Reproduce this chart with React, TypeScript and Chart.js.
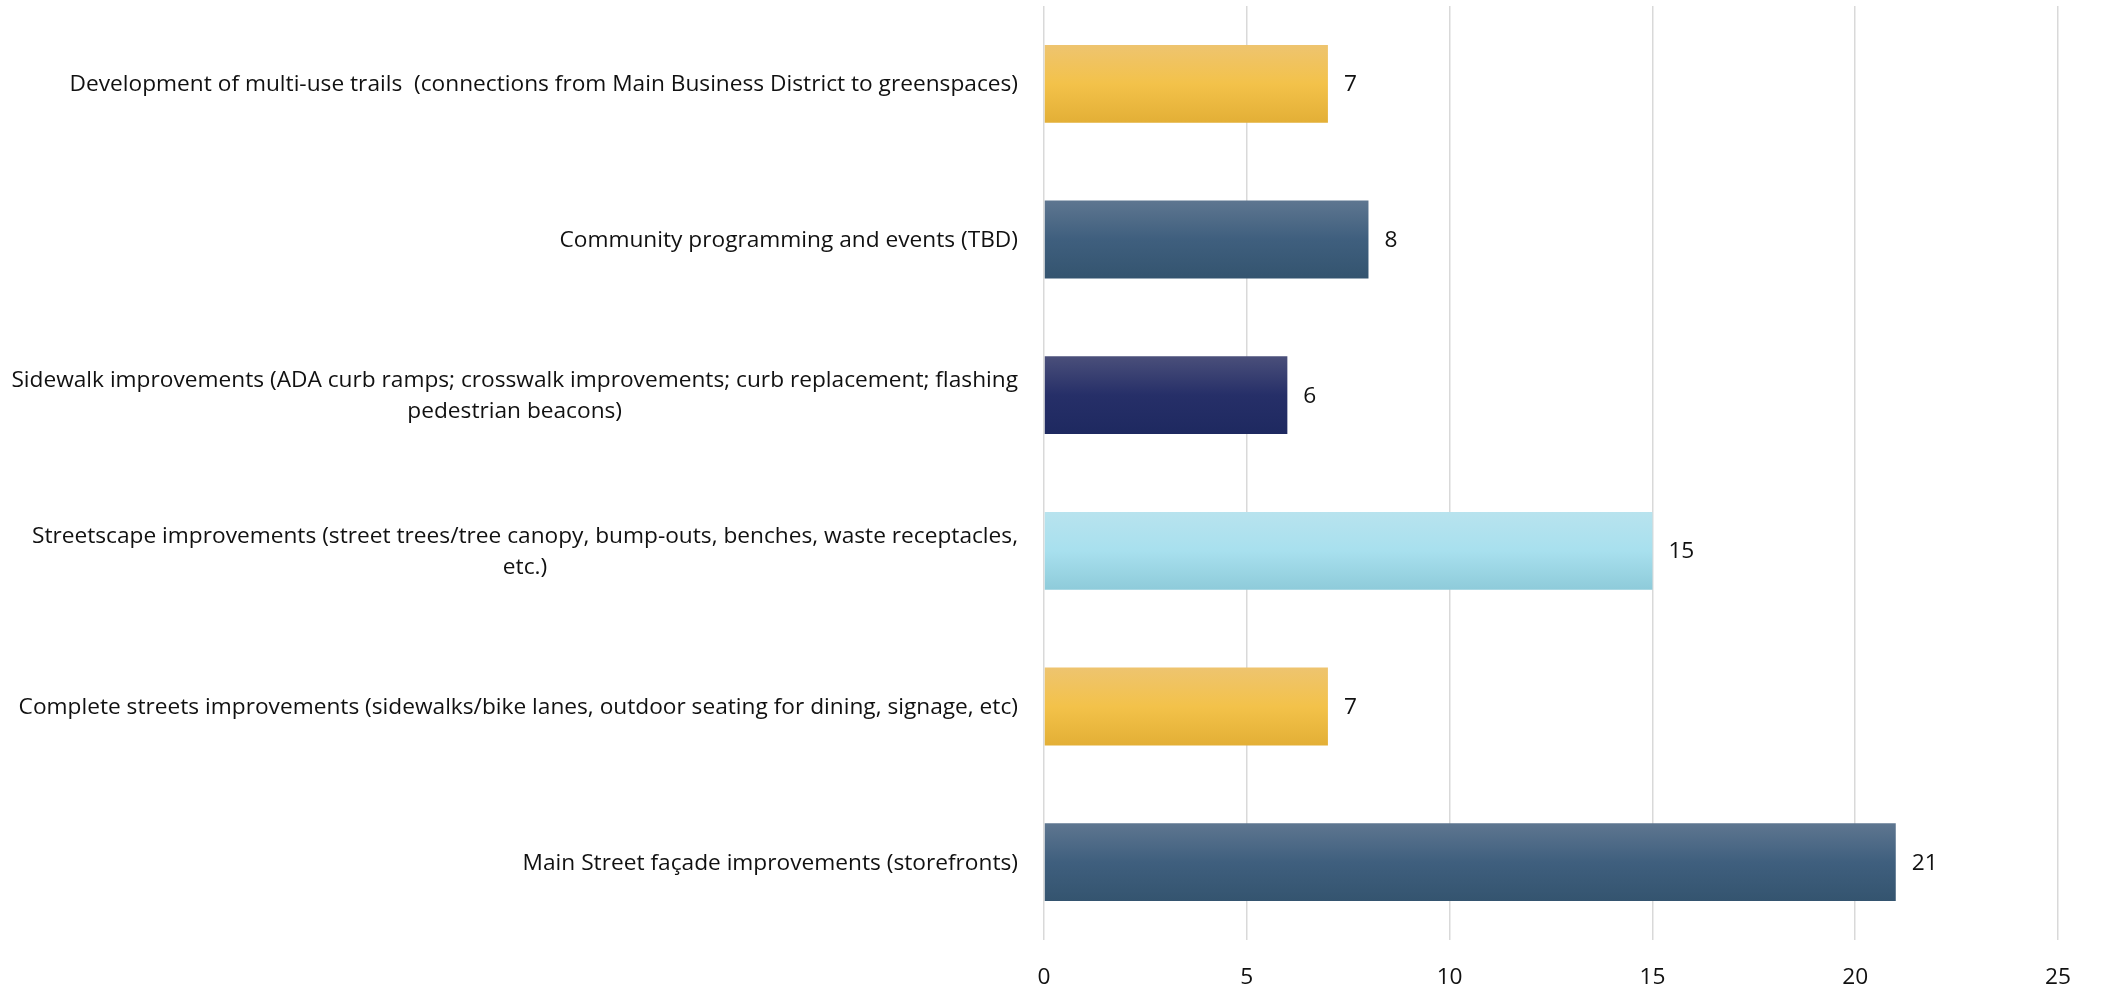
import React, { useEffect, useRef } from "react";
import { Chart, registerables } from "chart.js";

Chart.register(...registerables);

const categories: string[][] = [
  ["Development of multi-use trails  (connections from Main Business District to greenspaces)"],
  ["Community programming and events (TBD)"],
  ["Sidewalk improvements (ADA curb ramps; crosswalk improvements; curb replacement; flashing", "pedestrian beacons)"],
  ["Streetscape improvements (street trees/tree canopy, bump-outs, benches, waste receptacles,", "etc.)"],
  ["Complete streets improvements (sidewalks/bike lanes, outdoor seating for dining, signage, etc)"],
  ["Main Street façade improvements (storefronts)"],
];
const values: number[] = [7, 8, 6, 15, 7, 21];
const xTicks: number[] = [0, 5, 10, 15, 20, 25];

const gold = ["#EEC46F", "#F3C24A", "#E3AF36"];
const slate = ["#5E7690", "#3F5F7E", "#34546F"];
const navy = ["#4A4F7A", "#262F68", "#1E2960"];
const lightBlue = ["#B8E3EE", "#A8E0EE", "#8ECBDA"];
const barGradients: string[][] = [gold, slate, navy, lightBlue, gold, slate];

const FONT = "'Open Sans', 'Noto Sans', sans-serif";
const FONT_SIZE = 22.7;
const TEXT_COLOR = "#111111";

const valueLabelPlugin = {
  id: "valueLabels",
  afterDatasetsDraw(chart: any) {
    const ctx = chart.ctx;
    const meta = chart.getDatasetMeta(0);
    ctx.save();
    ctx.font = `${FONT_SIZE}px ${FONT}`;
    ctx.fillStyle = TEXT_COLOR;
    ctx.textAlign = "left";
    ctx.textBaseline = "middle";
    meta.data.forEach((bar: any, i: number) => {
      ctx.fillText(String(values[i]), bar.x + 16, bar.y + 1);
    });
    ctx.restore();
  },
};

const categoryLabelPlugin = {
  id: "categoryLabels",
  afterDraw(chart: any) {
    const ctx = chart.ctx;
    const yScale = chart.scales.y;
    const right = chart.chartArea.left - 26;
    const lineH = 31;
    ctx.save();
    ctx.font = `${FONT_SIZE}px ${FONT}`;
    ctx.fillStyle = TEXT_COLOR;
    ctx.textAlign = "center";
    ctx.textBaseline = "middle";
    categories.forEach((lines, i) => {
      const yc = yScale.getPixelForValue(i) + 1;
      const maxW = Math.max(...lines.map((l) => ctx.measureText(l).width));
      const cx = right - maxW / 2;
      const y0 = yc - ((lines.length - 1) * lineH) / 2;
      lines.forEach((l, j) => ctx.fillText(l, cx, y0 + j * lineH));
    });
    ctx.restore();
  },
};

export default function App() {
  const ref = useRef<HTMLCanvasElement | null>(null);

  useEffect(() => {
    document.body.style.margin = "0";
    const canvas = ref.current;
    if (!canvas) return;
    const chart = new Chart(canvas, {
      type: "bar",
      data: {
        labels: categories.map((c) => c.join(" ")),
        datasets: [
          {
            data: values,
            barPercentage: 0.5,
            categoryPercentage: 1.0,
            borderWidth: 0,
            backgroundColor: (context: any) => {
              const stops = barGradients[context.dataIndex] || slate;
              const chartObj = context.chart;
              const area = chartObj.chartArea;
              const ys = chartObj.scales?.y;
              if (!area || !ys) return stops[1];
              const yc = ys.getPixelForValue(context.dataIndex);
              const h = (area.height / categories.length) * 0.5;
              const g = chartObj.ctx.createLinearGradient(0, yc - h / 2, 0, yc + h / 2);
              g.addColorStop(0, stops[0]);
              g.addColorStop(0.5, stops[1]);
              g.addColorStop(1, stops[2]);
              return g;
            },
          },
        ],
      },
      options: {
        indexAxis: "y",
        animation: false,
        responsive: false,
        maintainAspectRatio: false,
        layout: { padding: { left: 0, right: 45, top: 6, bottom: 0 } },
        plugins: {
          legend: { display: false },
          tooltip: { enabled: false },
          title: { display: false },
        },
        scales: {
          x: {
            type: "linear",
            position: "bottom",
            min: 0,
            max: 25,
            afterBuildTicks: (scale: any) => {
              scale.ticks = xTicks.map((v) => ({ value: v }));
            },
            afterFit: (scale: any) => {
              scale.height = 49;
            },
            grid: { color: "#D9D9D9", lineWidth: 1.5, drawTicks: false },
            border: { display: false },
            ticks: {
              padding: 24,
              color: TEXT_COLOR,
              font: { family: FONT, size: FONT_SIZE },
            },
          },
          y: {
            type: "category",
            afterFit: (scale: any) => {
              scale.width = 1044;
            },
            grid: { display: false },
            border: { display: false },
            ticks: { display: false },
          },
        },
      },
      plugins: [valueLabelPlugin, categoryLabelPlugin],
    } as any);
    return () => chart.destroy();
  }, []);

  return (
    <div style={{ width: 2103, height: 989, background: "#fff" }}>
      <canvas ref={ref} width={2103} height={989} style={{ display: "block" }} />
    </div>
  );
}
